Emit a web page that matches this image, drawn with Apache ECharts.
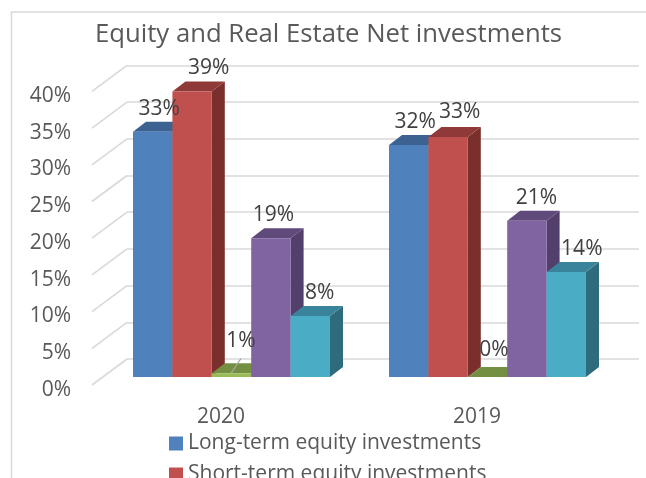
<!DOCTYPE html>
<html>
<head>
<meta charset="utf-8">
<style>
  html, body { margin: 0; padding: 0; background: #fff; }
  #chart { width: 646px; height: 478px; }
</style>
<script src="https://cdn.jsdelivr.net/npm/echarts@6/dist/echarts.min.js"></script>
</head>
<body>
<div id="chart"></div>
<script>
const titleText = 'Equity and Real Estate Net investments'
const categories = ['2020', '2019']
const yTicks = [0, 5, 10, 15, 20, 25, 30, 35, 40]

const seriesNames = [
  'Long-term equity investments',
  'Short-term equity investments',
  'Series 3',
  'Series 4',
  'Series 5'
]
const longTerm = [33.4, 31.6]
const shortTerm = [38.9, 32.7]
const series3 = [0.5, 0]
const series4 = [18.9, 21.3]
const series5 = [8.3, 14.3]
const seriesValues = [longTerm, shortTerm, series3, series4, series5]

// front / top / side colours of each bar
const faceColors = ['#4F81BD', '#C0504D', '#9BBB59', '#8064A2', '#4BACC6']
const topColors = ['#3C6291', '#8F3A38', '#748E42', '#604A7B', '#39849A']
const sideColors = ['#33537B', '#7A2F2D', '#62783A', '#533F6C', '#2E6B7D']

const FONT = '"Open Sans", sans-serif'
const BAR_W = 39.4
const DEPTH_X = 13
const DEPTH_Y = 10

// hand placement of labels, by "series-category"
const labelNudge = {
  '1-0': [10, 0],
  '2-0': [3, -9],
  '2-1': [0, -3.5],
  '3-0': [-4, 0],
  '3-1': [3, 0],
  '4-0': [3, 0],
  '4-1': [9, 0],
  '1-1': [5, -1.5]
}

function renderBar(s, params, api) {
  const idx = api.value(0)
  const val = api.value(1)
  const p = api.coord([idx, val])
  const y0 = api.coord([idx, 0])[1]
  const x = p[0] + (s - 2.5) * BAR_W
  const top = p[1]
  const w = BAR_W
  const children = [
    {
      type: 'polygon',
      z2: s,
      shape: { points: [[x + w, top], [x + w + DEPTH_X, top - DEPTH_Y], [x + w + DEPTH_X, y0 - DEPTH_Y], [x + w, y0]] },
      style: { fill: sideColors[s] }
    },
    {
      type: 'polygon',
      z2: s,
      shape: { points: [[x, top], [x + DEPTH_X, top - DEPTH_Y], [x + w + DEPTH_X, top - DEPTH_Y], [x + w, top]] },
      style: { fill: topColors[s] }
    },
    {
      type: 'rect',
      z2: s,
      shape: { x: x, y: top, width: w, height: y0 - top },
      style: { fill: faceColors[s] }
    }
  ]
  const nudge = labelNudge[s + '-' + idx] || [0, 0]
  const lx = x + w / 2 + DEPTH_X / 2 + nudge[0]
  const ly = top - DEPTH_Y - 13 + nudge[1]
  children.push({
    type: 'text',
    z2: 100,
    style: {
      x: lx,
      y: ly,
      text: Math.round(val) + '%',
      fill: '#404040',
      font: '21px ' + FONT,
      textAlign: 'center',
      textVerticalAlign: 'middle'
    }
  })
  // 1% label has a leader line down to its bar
  if (s === 2 && idx === 0) {
    children.push({
      type: 'line',
      z2: 100,
      shape: { x1: lx, y1: ly + 17, x2: lx - 10, y2: top },
      style: { stroke: '#A6A6A6', lineWidth: 1.2 }
    })
  }
  return { type: 'group', children: children }
}

// side wall lines, from the back wall forward to the floor edge
function renderDiagonal(params, api) {
  const y = api.coord([0, api.value(0)])[1]
  const x = params.coordSys.x
  return {
    type: 'line',
    shape: { x1: x, y1: y, x2: x - 35, y2: y + 26 },
    style: { stroke: '#D9D9D9', lineWidth: 1.6 }
  }
}

const chart = echarts.init(document.getElementById('chart'))

const barSeries = seriesNames.map((name, s) => ({
  type: 'custom',
  name: name,
  xAxisIndex: 0,
  yAxisIndex: 0,
  z: 5,
  itemStyle: { color: faceColors[s] },
  encode: { x: 0, y: 1 },
  data: seriesValues[s].map((v, i) => [i, v]),
  renderItem: (params, api) => renderBar(s, params, api)
}))

chart.setOption({
  animation: false,
  backgroundColor: '#fff',
  title: {
    text: titleText,
    left: 323.5,
    top: 17,
    textAlign: 'center',
    textStyle: { fontFamily: FONT, fontSize: 25.7, fontWeight: 'normal', color: '#595959' }
  },
  legend: {
    orient: 'vertical',
    left: 169,
    top: 433,
    height: 100,
    padding: 0,
    itemWidth: 14,
    itemHeight: 14,
    itemGap: 10,
    icon: 'rect',
    selectedMode: false,
    data: seriesNames.slice(0, 2),
    textStyle: { fontFamily: FONT, fontSize: 21, color: '#595959' }
  },
  // bars, back wall, axis labels
  grid: [
    { left: 103.5, right: 30.5, top: 83.4, bottom: 101 },
    { left: 127, right: 7, top: 65.4, bottom: 119 },
    { left: 93, right: 41, top: 96, bottom: 88 }
  ],
  xAxis: [
    { type: 'category', gridIndex: 0, data: categories, axisLine: { show: false }, axisTick: { show: false }, axisLabel: { show: false } },
    { type: 'category', gridIndex: 1, data: categories, axisLine: { show: false }, axisTick: { show: false }, axisLabel: { show: false } },
    {
      type: 'category',
      gridIndex: 2,
      data: categories,
      axisLine: { show: false },
      axisTick: { show: false },
      axisLabel: { margin: 17, fontFamily: FONT, fontSize: 21, color: '#595959' }
    }
  ],
  yAxis: [
    { type: 'value', gridIndex: 0, min: 0, max: 40, interval: 5, axisLabel: { show: false }, splitLine: { show: false } },
    {
      type: 'value',
      gridIndex: 1,
      min: 0,
      max: 40,
      interval: 5,
      axisLabel: { show: false },
      splitLine: { show: true, lineStyle: { color: '#D9D9D9', width: 1.6 } }
    },
    {
      type: 'value',
      gridIndex: 2,
      min: 0,
      max: 40,
      interval: 5,
      axisLine: { show: false },
      axisTick: { show: false },
      splitLine: { show: false },
      axisLabel: { margin: 22, formatter: '{value}%', fontFamily: FONT, fontSize: 21, color: '#595959' }
    }
  ],
  graphic: [
    {
      type: 'polyline',
      silent: true,
      shape: { points: [[11.5, 478], [11.5, 12], [646, 12]] },
      style: { stroke: '#D9D9D9', fill: null, lineWidth: 1.5 }
    }
  ],
  series: [
    {
      type: 'custom',
      name: 'wall',
      xAxisIndex: 1,
      yAxisIndex: 1,
      z: 1,
      encode: { y: 0 },
      data: yTicks.map(v => [v]),
      renderItem: renderDiagonal
    }
  ].concat(barSeries)
})

window.addEventListener('resize', () => chart.resize())
</script>
</body>
</html>
